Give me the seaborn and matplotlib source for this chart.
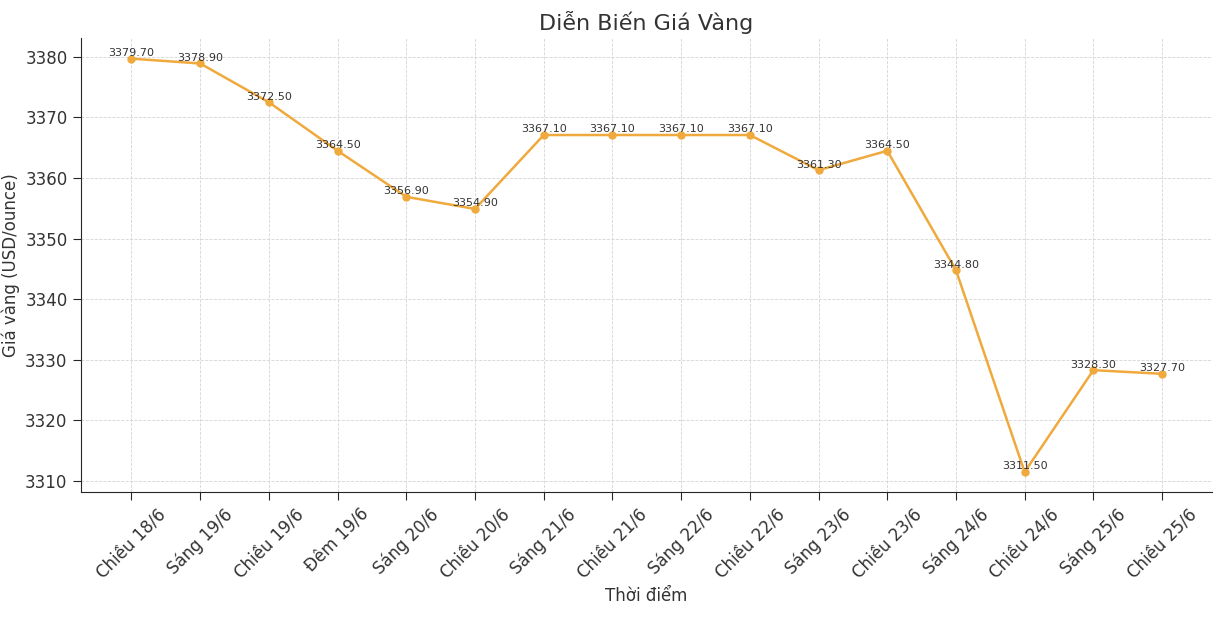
import matplotlib
matplotlib.use("Agg")
import matplotlib.pyplot as plt
import seaborn as sns
import pandas as pd

times = ["Chiều 18/6", "Sáng 19/6", "Chiều 19/6", "Đêm 19/6", "Sáng 20/6", "Chiều 20/6",
         "Sáng 21/6", "Chiều 21/6", "Sáng 22/6", "Chiều 22/6", "Sáng 23/6", "Chiều 23/6",
         "Sáng 24/6", "Chiều 24/6", "Sáng 25/6", "Chiều 25/6"]
prices = [3379.70, 3378.90, 3372.50, 3364.50, 3356.90, 3354.90, 3367.10, 3367.10,
          3367.10, 3367.10, 3361.30, 3364.50, 3344.80, 3311.50, 3328.30, 3327.70]

df = pd.DataFrame({"time": times, "price": prices})
df["pos"] = range(len(df))

sns.set_style("ticks")
fig, ax = plt.subplots(figsize=(12.22, 6.34), dpi=100)
sns.lineplot(data=df, x="pos", y="price", ax=ax, color="#f0a93c", marker="o",
             markersize=6, markeredgewidth=0, linewidth=1.8)
for _, r in df.iterrows():
    ax.text(r["pos"], r["price"] + 0.1, "%.2f" % r["price"], ha="center", va="bottom",
            fontsize=8, color="#333333")

ax.set_xticks(df["pos"])
ax.set_xticklabels(times, rotation=45, fontsize=12, color="#333333")
ax.tick_params(axis="y", labelsize=12, labelcolor="#333333")
ax.tick_params(length=6)
ax.set_xlim(-0.74, 15.73)
ax.set_ylim(3308.2, 3383.1)
ax.grid(True, linestyle="--", color="#d5d5d5", linewidth=0.6)
sns.despine(ax=ax)
ax.set_xlabel("Thời điểm", fontsize=12, color="#333333")
ax.set_ylabel("Giá vàng (USD/ounce)", fontsize=12, color="#333333")
ax.set_title("Diễn Biến Giá Vàng", fontsize=16, color="#333333")
fig.subplots_adjust(left=0.066, right=0.992, top=0.94, bottom=0.224)
fig.savefig("out.png", dpi=100)
